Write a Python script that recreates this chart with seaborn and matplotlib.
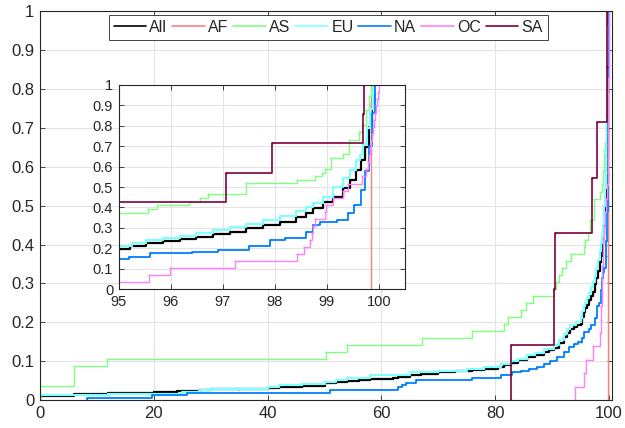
import numpy as np
import pandas as pd
import seaborn as sns
import matplotlib.pyplot as plt
from matplotlib.lines import Line2D

# step positions (x) and CDF value reached at each step (F)
all_x = [0, 5.9, 12, 20, 24, 28, 30, 35, 40, 42, 46, 50, 52, 54, 56, 58, 62, 63, 65, 67, 70, 73, 76, 78,
         80.4, 81.5, 82.7, 84, 85.6, 87, 88.5, 89.5, 90.3, 91.2, 92.0, 92.6, 93.2, 93.8, 94.4,
         95.0, 95.21, 95.53, 95.85, 96.17, 96.49, 96.81, 97.13, 97.45, 97.77, 98.09, 98.41, 98.60,
         98.73, 98.92, 99.12, 99.31, 99.44, 99.56, 99.66, 99.74, 99.81, 99.86, 99.90]
all_F = [0.010, 0.017, 0.019, 0.021, 0.023, 0.026, 0.028, 0.030, 0.031, 0.034, 0.037, 0.043, 0.047, 0.050,
         0.053, 0.055, 0.057, 0.060, 0.065, 0.068, 0.072, 0.074, 0.078, 0.081,
         0.086, 0.090, 0.096, 0.103, 0.111, 0.117, 0.124, 0.129, 0.135, 0.148, 0.162, 0.172, 0.183, 0.189, 0.194,
         0.197, 0.213, 0.226, 0.236, 0.244, 0.257, 0.269, 0.278, 0.298, 0.314, 0.331, 0.355, 0.371,
         0.396, 0.428, 0.453, 0.493, 0.534, 0.583, 0.632, 0.697, 0.795, 0.909, 1.0]

af_x = [99.85]
af_F = [1.0]

as_x = [0, 5.9, 11.7, 50.2, 53.9, 67.2, 76.0, 81.6, 82.2, 84.5, 85.4, 86.7, 90.4, 90.7, 91.2, 91.8,
        92.4, 93.3, 95.56, 95.74, 96.35, 96.57, 96.72, 97.44, 98.43, 98.78, 98.91, 98.96, 99.07,
        99.31, 99.43, 99.62, 99.67, 99.75, 99.80, 99.85]
as_F = [0.036, 0.089, 0.107, 0.125, 0.143, 0.161, 0.179, 0.196, 0.214, 0.232, 0.250, 0.268, 0.286, 0.304,
        0.321, 0.339, 0.357, 0.375, 0.393, 0.411, 0.429, 0.446, 0.464, 0.518, 0.536, 0.554, 0.571,
        0.589, 0.643, 0.661, 0.732, 0.768, 0.804, 0.875, 0.946, 1.0]

eu_x = [0, 12, 20, 25, 28, 30, 35, 40, 42, 46, 50, 52, 54, 58, 62, 65, 70, 75, 78, 81, 82.7, 84, 85.6,
        87, 88.5, 90.3, 91.2, 92.0, 92.6, 93.2, 94.2,
        95.0, 95.25, 95.53, 95.85, 96.17, 96.49, 96.81, 97.13, 97.45, 97.77, 98.09, 98.41, 98.60,
        98.73, 98.92, 99.12, 99.31, 99.44, 99.56, 99.63, 99.70, 99.77, 99.83, 99.88, 99.91]
eu_F = [0.013, 0.015, 0.017, 0.021, 0.025, 0.028, 0.030, 0.033, 0.038, 0.041, 0.048, 0.053, 0.058, 0.064,
        0.066, 0.072, 0.076, 0.080, 0.084, 0.092, 0.100, 0.107, 0.115, 0.122, 0.132, 0.143, 0.155,
        0.171, 0.182, 0.192, 0.202,
        0.212, 0.228, 0.241, 0.250, 0.262, 0.275, 0.290, 0.303, 0.320, 0.338, 0.360, 0.384, 0.404,
        0.420, 0.452, 0.500, 0.545, 0.583, 0.630, 0.656, 0.710, 0.790, 0.880, 0.960, 1.0]

na_x = [8.3, 19.7, 25.8, 50.9, 63.0, 63.6, 64.3, 66.0, 76.0, 81.0, 82.9, 84.5, 86.0, 87.3, 88.5, 89.7,
        90.8, 92.0, 92.9, 93.8, 94.5,
        95.0, 95.2, 95.6, 96.4, 96.9, 97.5, 97.9, 98.2, 98.6, 98.73, 98.86, 99.2, 99.4, 99.52, 99.65,
        99.74, 99.80, 99.86, 99.92]
na_F = [0.006, 0.013, 0.019, 0.025, 0.033, 0.040, 0.045, 0.051, 0.058, 0.065, 0.072, 0.076, 0.080, 0.085,
        0.092, 0.100, 0.110, 0.124, 0.136, 0.145, 0.149,
        0.150, 0.160, 0.176, 0.184, 0.192, 0.212, 0.241, 0.250, 0.282, 0.314, 0.330, 0.339, 0.371,
        0.410, 0.485, 0.580, 0.700, 0.860, 1.0]

oc_x = [94.0, 95.58, 95.98, 97.23, 98.43, 98.55, 98.67, 98.71, 98.74, 98.77, 98.96, 98.99, 99.12, 99.31,
        99.40, 99.68, 99.75, 99.78, 99.80, 99.82, 99.84, 99.86, 99.88, 99.90, 99.92, 99.94, 99.96,
        99.98, 100.0]
oc_F = [0.034, 0.069, 0.103, 0.138, 0.172, 0.207, 0.241, 0.276, 0.310, 0.345, 0.379, 0.414, 0.448, 0.483,
        0.517, 0.552, 0.586, 0.621, 0.655, 0.690, 0.724, 0.759, 0.793, 0.828, 0.862, 0.897, 0.931,
        0.966, 1.0]

sa_x = [82.8, 90.4, 90.45, 97.07, 97.94, 99.69, 99.71]
sa_F = [0.143, 0.286, 0.429, 0.571, 0.714, 0.857, 1.0]

regions = ["All", "AF", "AS", "EU", "NA", "OC", "SA"]
series = {"All": (all_x, all_F), "AF": (af_x, af_F), "AS": (as_x, as_F), "EU": (eu_x, eu_F),
          "NA": (na_x, na_F), "OC": (oc_x, oc_F), "SA": (sa_x, sa_F)}
colors = {"All": "#000000", "AF": "#ff8080", "AS": "#80ff80", "EU": "#80ffff",
          "NA": "#0080ff", "OC": "#ff80ff", "SA": "#80003f"}
widths = {"All": 1.6, "AF": 1.0, "AS": 1.0, "EU": 1.6, "NA": 1.3, "OC": 1.0, "SA": 1.2}

sns.set_style("ticks")
plt.rcParams["font.family"] = ["Liberation Sans", "DejaVu Sans"]
plt.rcParams["text.color"] = "#262626"

fig = plt.figure(figsize=(6.25, 4.28), dpi=100)
ax = fig.add_axes([0.064, 0.065, 0.915, 0.909])
axin = fig.add_axes([0.190, 0.324, 0.458, 0.478])


def draw(a):
    for r in regions:
        x, F = series[r]
        d = pd.DataFrame({"x": [x[0]] + list(x), "F": [0.0] + list(F)})
        sns.lineplot(data=d, x="x", y="F", ax=a, color=colors[r], lw=widths[r],
                     drawstyle="steps-post", marker=".", markersize=3, markeredgewidth=0,
                     estimator=None, sort=False, legend=False)


def style(a, xticks, xlim, fs):
    a.set_xlim(*xlim)
    a.set_ylim(0, 1)
    a.set_xticks(xticks)
    a.set_yticks(np.arange(0, 1.01, 0.1))
    a.set_xticklabels([f"{v:g}" for v in xticks])
    a.set_yticklabels([f"{v:g}" for v in np.round(np.arange(0, 1.01, 0.1), 1)])
    a.set_xlabel("")
    a.set_ylabel("")
    a.grid(True, color="#e3e3e3", lw=0.8)
    a.set_axisbelow(True)
    a.tick_params(direction="in", top=True, right=True, length=3.5, width=0.6,
                  labelsize=fs, colors="#262626", pad=4)
    for s in a.spines.values():
        s.set_visible(True)
        s.set_color("#262626")
        s.set_linewidth(0.8)


draw(ax)
style(ax, [0, 20, 40, 60, 80, 100], (0, 100.5), 12)
draw(axin)
style(axin, [95, 96, 97, 98, 99, 100], (95, 100.5), 10.5)
axin.set_facecolor("white")

handles = [Line2D([], [], color=colors[r], lw=1.2) for r in regions]
leg = ax.legend(handles, regions, ncol=7, loc="upper center", bbox_to_anchor=(0.504, 0.99),
                fontsize=11.5, frameon=True, fancybox=False, edgecolor="#262626", framealpha=1,
                handlelength=2.05, handletextpad=0.2, columnspacing=0.3, borderpad=0.3,
                borderaxespad=0)
leg.get_frame().set_linewidth(0.6)

fig.savefig("out.png", dpi=100)
